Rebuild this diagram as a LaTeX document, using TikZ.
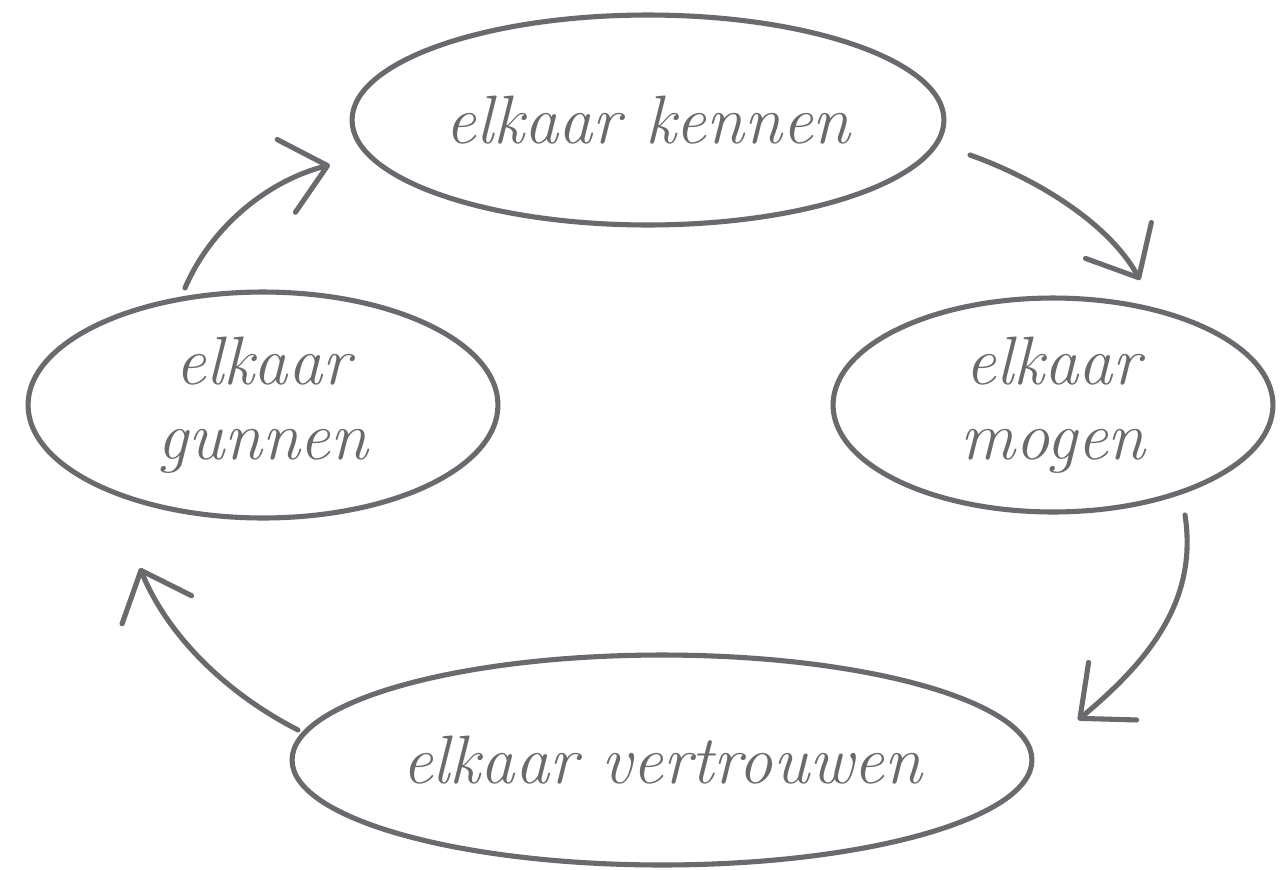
\documentclass[tikz,border=0pt]{standalone}
\usetikzlibrary{shapes.geometric,arrows.meta}
\definecolor{pen}{HTML}{6A6A6E}
\begin{document}
\begin{tikzpicture}[x=0.02cm,y=-0.02cm,
  bubble/.style={ellipse,draw=pen,line width=2.9pt,text=pen,align=center,
    inner sep=0pt,font=\fontsize{39}{47}\selectfont\itshape},
  flow/.style={draw=pen,line width=2.9pt,line cap=round,
    -{Straight Barb[length=0.85cm,width=1.5cm,line width=0pt 1,round]}}]
\useasboundingbox (0,0) rectangle (1281,869);
% de vier ellipsen
\node[bubble,minimum width=11.84cm,minimum height=4.2cm] (kennen) at (648,120) {elkaar kennen};
\node[bubble,minimum width=8.8cm,minimum height=4.28cm] (mogen) at (1053,405) {elkaar\\[-4pt]mogen};
\node[bubble,minimum width=14.8cm,minimum height=4.2cm] (vertrouwen) at (662,760) {elkaar vertrouwen};
\node[bubble,minimum width=9.4cm,minimum height=4.52cm] (gunnen) at (263,405) {elkaar\\[-4pt]gunnen};
% begin- en eindpunten van de pijlen
\coordinate (k1) at (970,155);
\coordinate (m0) at (1140,280);
\coordinate (m1) at (1185,515);
\coordinate (v0) at (1078,720);
\coordinate (v1) at (298,730);
\coordinate (g0) at (140,568);
\coordinate (g1) at (185,288);
\coordinate (k0) at (330,165);
% de pijlen
\draw[flow] (k1) .. controls (1040,180) and (1110,225) .. (m0);
\draw[flow] (m1) .. controls (1198,600) and (1150,660) .. (v0);
\draw[flow] (v1) .. controls (220,690) and (165,630) .. (g0);
\draw[flow] (g1) .. controls (212,225) and (270,180) .. (k0);
\end{tikzpicture}
\end{document}
